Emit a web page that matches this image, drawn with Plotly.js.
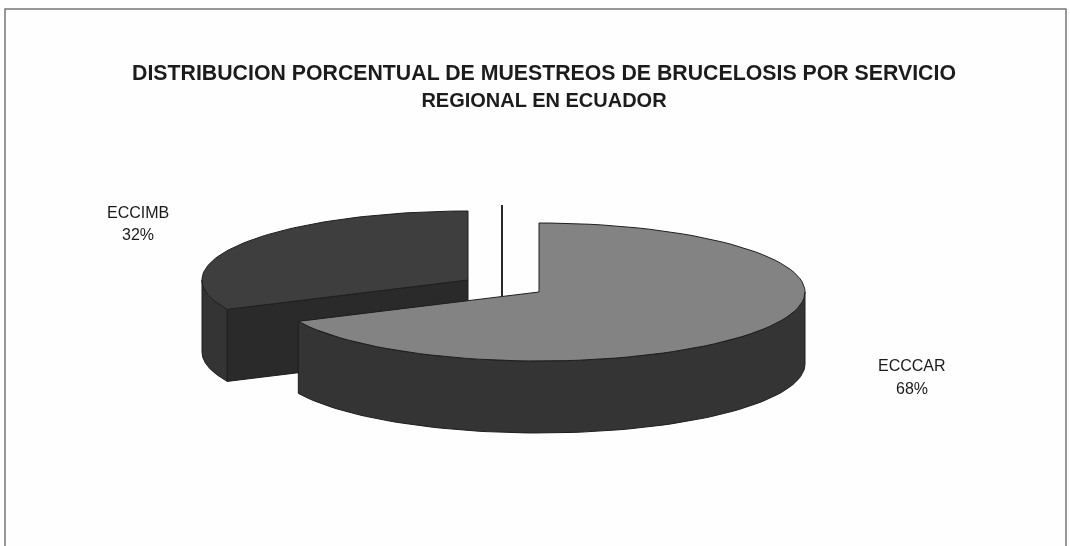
<!DOCTYPE html>
<html>
<head>
<meta charset="utf-8">
<script src="https://cdn.plot.ly/plotly-3.0.1.min.js"></script>
<style>
html,body{margin:0;padding:0;background:#fff;overflow:hidden}
#chart{width:1070px;height:546px;filter:blur(0.7px)}
</style>
</head>
<body>
<div id="chart"></div>
<script>
var titleLine1 = "DISTRIBUCION PORCENTUAL DE MUESTREOS DE BRUCELOSIS POR SERVICIO";
var titleLine2 = "REGIONAL EN ECUADOR";
var categories = ["ECCCAR", "ECCIMB"];
var shares = [68, 32];

// projection of the tilted, exploded pie onto pixel-sized axes
var RX = 266, RY = 69, DEPTH = 72, STEPS = 90;
var CENTERS = {ECCCAR: [539, 292], ECCIMB: [468, 280]};
var FACE = "#838383", FACE_DARK = "#3e3e3e", WALL = "#343434", WALL_DARK = "#2a2a2a", EDGE = "#1e1e1e";

function pt(c, deg, dy) {
  var a = deg * Math.PI / 180;
  return [c[0] + RX * Math.sin(a), c[1] - RY * Math.cos(a) + (dy || 0)];
}
function arc(c, a0, a1, dy) {
  var out = [];
  for (var i = 0; i <= STEPS; i++) out.push(pt(c, a0 + (a1 - a0) * i / STEPS, dy));
  return out;
}
function poly(points, color) {
  var closed = points.concat([points[0]]);
  return {
    type: "scatter", mode: "lines", hoverinfo: "skip", showlegend: false,
    x: closed.map(function (p) { return p[0]; }),
    y: closed.map(function (p) { return p[1]; }),
    fill: "toself", fillcolor: color,
    line: {color: EDGE, width: 1}
  };
}

var total = shares[0] + shares[1];
var bigSweep = 360 * shares[0] / total;     // clockwise from 12 o'clock
var smallSweep = 360 * shares[1] / total;   // counter-clockwise from 12 o'clock
var cB = CENTERS[categories[0]], cS = CENTERS[categories[1]];
var tipS = pt(cS, -smallSweep);

var traces = [
  // small slice: outer rim, cut face, top
  poly(arc(cS, -smallSweep, -90, 0).concat(arc(cS, -90, -smallSweep, DEPTH)), WALL),
  poly([tipS, cS, [cS[0], cS[1] + DEPTH], [tipS[0], tipS[1] + DEPTH]], WALL_DARK),
  poly([cS].concat(arc(cS, -smallSweep, 0, 0)), FACE_DARK),
  // large slice: outer rim, top
  poly(arc(cB, 90, bigSweep, 0).concat(arc(cB, bigSweep, 90, DEPTH)), WALL),
  poly([cB].concat(arc(cB, 0, bigSweep, 0)), FACE)
];

function label(text, x, y) {
  return {text: text, x: x, y: y, xref: "x", yref: "y", showarrow: false,
    xanchor: "center", yanchor: "middle",
    font: {family: "Liberation Sans, Arial, sans-serif", size: 16, color: "#1a1a1a"}};
}

var layout = {
  width: 1070, height: 546,
  margin: {l: 0, r: 0, t: 0, b: 0},
  paper_bgcolor: "#fefefe", plot_bgcolor: "#fefefe",
  showlegend: false,
  title: {
    text: "<b>" + titleLine1 + "</b><br><b><span style='font-size:20px'>" + titleLine2 + "</span></b>",
    font: {family: "Liberation Sans, Arial, sans-serif", size: 21.3, color: "#1c1c1c"},
    x: 544 / 1070, xanchor: "center", xref: "paper",
    y: 1 - 79.5 / 546, yanchor: "middle", yref: "container"
  },
  xaxis: {range: [0, 1070], visible: false, fixedrange: true},
  yaxis: {range: [546, 0], visible: false, fixedrange: true},
  shapes: [
    {type: "rect", xref: "x", yref: "y", x0: 5, x1: 1066, y0: 9, y1: 548,
      line: {color: "#777", width: 1.5}, fillcolor: "rgba(0,0,0,0)", layer: "below"},
    {type: "line", xref: "x", yref: "y", x0: 502, x1: 502, y0: 205, y1: 296,
      line: {color: "#2a2a2a", width: 2}}
  ],
  annotations: [
    label(categories[1], 138, 212),
    label(shares[1] + "%", 138, 234),
    label(categories[0], 912, 365),
    label(shares[0] + "%", 912, 388)
  ]
};

Plotly.newPlot("chart", traces, layout, {staticPlot: true, displayModeBar: false});
</script>
</body>
</html>
